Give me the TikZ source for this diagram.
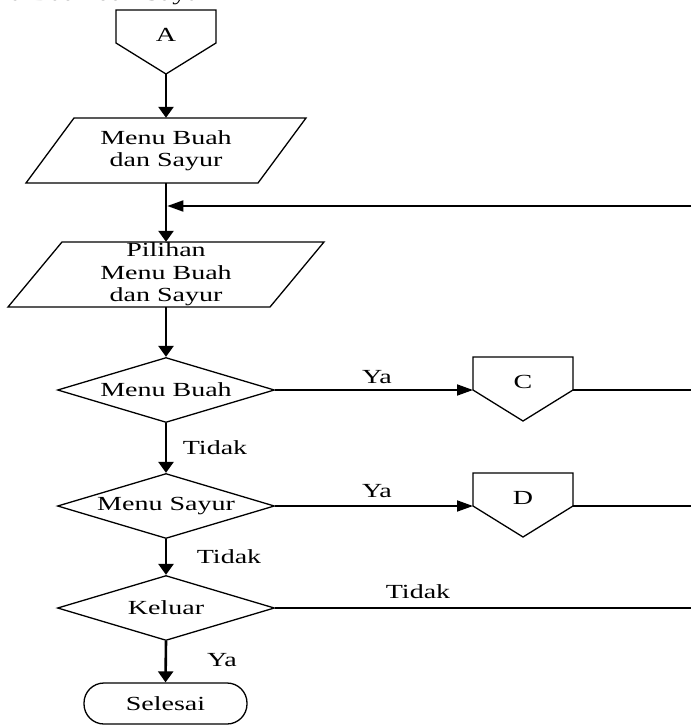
\documentclass[tikz,border=0pt]{standalone}
\usepackage{fontspec}
\setmainfont{Liberation Serif}[FakeStretch=1.4]
\usetikzlibrary{arrows.meta,shapes.geometric,calc}

\begin{document}
\begin{tikzpicture}[x=1pt,y=-1pt,
  every node/.style={font=\fontsize{20}{22.5}\selectfont, inner sep=0pt},
  txtbox/.style={align=center},
  outline/.style={draw=black, line width=1.3pt, line join=miter},
  decision/.style={diamond, draw, line width=1.3pt, minimum width=217pt,
                   minimum height=65pt, aspect=3.3},
  terminal/.style={rectangle, rounded corners=20pt, draw, line width=1.3pt,
                   minimum width=163pt, minimum height=41pt},
  vflow/.style={line width=2.6pt, -{Triangle[length=11pt,width=15pt]}},
  hflow/.style={line width=1.8pt, -{Triangle[length=16pt,width=11pt]}},
  hline/.style={line width=1.8pt},
  lbl/.style={anchor=base}
]
\useasboundingbox (0,0) rectangle (691,727);
\clip (0,0) rectangle (691,727);

% heading, running off the top edge
\node[anchor=base east] (head) at (210,0.5) {Menu Buah dan Sayur};

% off-page connector A
\node[txtbox, minimum width=100pt, minimum height=50pt] (A) at (166,35) {A};
\draw[outline] ($(A)+(-50,-25)$) -- ($(A)+(50,-25)$) -- ($(A)+(50,8)$)
  -- ($(A)+(0,39)$) -- ($(A)+(-50,8)$) -- cycle;
\coordinate (Atip) at ($(A)+(0,39)$);

% output: menu
\node[txtbox, minimum width=232pt, minimum height=65pt] (P1) at (166,150.5)
  {Menu Buah\\dan Sayur};
\draw[outline] ($(P1)+(-92,-32.5)$) -- ($(P1)+(140,-32.5)$)
  -- ($(P1)+(92,32.5)$) -- ($(P1)+(-140,32.5)$) -- cycle;

% input: choice
\node[txtbox, minimum width=262pt, minimum height=65pt] (P2) at (166,274.5)
  {Pilihan\\Menu Buah\\dan Sayur};
\draw[outline] ($(P2)+(-104,-32.5)$) -- ($(P2)+(158,-32.5)$)
  -- ($(P2)+(104,32.5)$) -- ($(P2)+(-158,32.5)$) -- cycle;

% decisions
\node[decision] (D1) at (166,390) {Menu Buah};
\node[decision] (D2) at (166,506) {Menu Sayur};
\node[decision] (D3) at (166,608) {Keluar};

% off-page connectors C and D
\node[txtbox, minimum width=100pt, minimum height=50pt] (C) at (523,382) {C};
\draw[outline] ($(C)+(-50,-25)$) -- ($(C)+(50,-25)$) -- ($(C)+(50,8)$)
  -- ($(C)+(0,39)$) -- ($(C)+(-50,8)$) -- cycle;
\coordinate (Cin) at ($(C)+(-50,8)$);
\coordinate (Cout) at ($(C)+(50,8)$);

\node[txtbox, minimum width=100pt, minimum height=50pt] (D) at (523,498) {D};
\draw[outline] ($(D)+(-50,-25)$) -- ($(D)+(50,-25)$) -- ($(D)+(50,8)$)
  -- ($(D)+(0,39)$) -- ($(D)+(-50,8)$) -- cycle;
\coordinate (Din) at ($(D)+(-50,8)$);
\coordinate (Dout) at ($(D)+(50,8)$);

% terminator
\node[terminal] (S) at (165.5,703.5) {Selesai};

% lines leaving / entering at the right edge
\coordinate (fb) at (691,206);
\coordinate (edgeC) at (691,390);
\coordinate (edgeD) at (691,506);
\coordinate (edgeK) at (691,608);

% main flow
\draw[vflow] (Atip) -- (P1.north);
\draw[vflow] (P1.south) -- (P2.north);
\draw[hflow] (fb) -- ($(fb -| P1.south)+(1.3,0)$);
\draw[vflow] (P2.south) -- (D1.north);
\draw[vflow] (D1.south) -- (D2.north);
\draw[vflow] (D2.south) -- (D3.north);
\draw[vflow] (D3.south) -- (S.north);

\draw[hflow] (D1.east) -- (Cin);
\draw[hline] (Cout) -- (edgeC);
\draw[hflow] (D2.east) -- (Din);
\draw[hline] (Dout) -- (edgeD);
\draw[hline] (D3.east) -- (edgeK);

% branch labels
\node[lbl] (yaC) at (377,383) {Ya};
\node[lbl] (tidak1) at (215,454) {Tidak};
\node[lbl] (yaD) at (377,497) {Ya};
\node[lbl] (tidak2) at (229,563) {Tidak};
\node[lbl] (tidak3) at (418,598) {Tidak};
\node[lbl] (yaK) at (222,666) {Ya};
\end{tikzpicture}
\end{document}
